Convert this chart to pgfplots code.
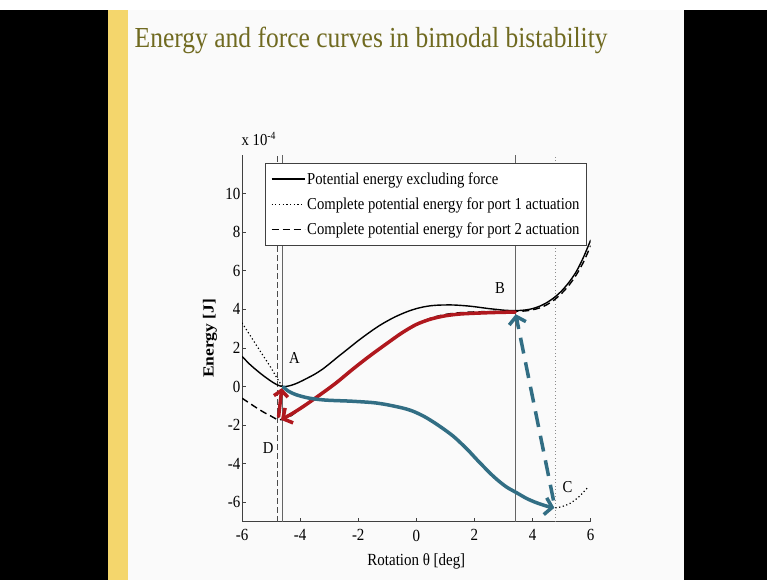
\documentclass[border=0pt]{standalone}
\usepackage{fontspec}
\setmainfont{Liberation Serif}[FakeStretch=0.88]
\newfontfamily\ylabfont{Liberation Serif}
\usepackage{graphicx}
\usepackage{pgfplots}
\pgfplotsset{compat=1.18}
\usetikzlibrary{arrows.meta}
\definecolor{slideyellow}{RGB}{244,214,108}
\definecolor{titleolive}{RGB}{112,106,32}
\definecolor{arrred}{RGB}{176,24,30}
\definecolor{arrteal}{RGB}{50,110,132}
\definecolor{vgray}{RGB}{100,100,100}
\begin{document}
\begin{tikzpicture}[x=1pt,y=1pt]
\path[use as bounding box] (0,0) rectangle (767,580);
\fill[white] (0,0) rectangle (767,580);
\fill[black] (0,0) rectangle (107.6,570);
\fill[black] (683.5,0) rectangle (767,570);
\fill[slideyellow] (107.6,0) rectangle (128,570);
\fill[white!98!black] (128,0) rectangle (683.5,570);
\node[anchor=base west, inner sep=0pt, text=titleolive, font=\fontsize{29}{29}\selectfont] at (134.5,532) {Energy and force curves in bimodal bistability};
\begin{axis}[
  at={(242pt,58.3pt)}, anchor=south west,
  scale only axis, width=348.7pt, height=366.7pt,
  xmin=-6, xmax=6, ymin=-7, ymax=12,
  axis x line*=bottom, axis y line*=left,
  axis line style={-, draw=black!75, line width=1pt},
  xtick={-6,-4,-2,0,2,4,6}, xticklabels={-6,-4,-2,0,2,4,6},
  ytick={-6,-4,-2,0,2,4,6,8,10}, yticklabels={-6,-4,-2,0,2,4,6,8,10},
  tick align=inside, major tick length=4pt,
  tick style={black!75, line width=0.8pt},
  ticklabel style={font=\fontsize{17}{17}\selectfont},
  yticklabel style={inner xsep=1.5pt},
  xticklabel style={yshift=-4.5pt},
  xlabel={Rotation θ [deg]},
  x label style={at={(axis description cs:0.5,-0.12)}, anchor=base, font=\fontsize{17}{17}\selectfont},
  ylabel={\scalebox{1}[0.88]{\ylabfont\bfseries\fontsize{17.5}{17.5}\selectfont Energy [J]}},
  y label style={at={(axis description cs:-0.092,0.5)}, anchor=center},
  legend style={at={(axis description cs:0.9894,0.9782)}, anchor=north east, draw=black!75, line width=0.9pt, fill=white, inner xsep=5pt, inner ysep=7pt, row sep=8pt, font=\fontsize{16.7}{20}\selectfont, cells={anchor=west}},
  legend image code/.code={\draw[#1] (0pt,0pt) -- (33pt,0pt);},
]
\addplot[vgray, line width=1pt, forget plot] coordinates {(-4.62,-7)(-4.62,12)};
\addplot[black!70, line width=1pt, dash pattern=on 6pt off 3pt, forget plot] coordinates {(-4.77,-7)(-4.77,12)};
\addplot[vgray, line width=1pt, forget plot] coordinates {(3.40,-7)(3.40,12)};
\addplot[black!45, line width=0.8pt, dash pattern=on 1pt off 2.5pt, forget plot] coordinates {(4.78,-7)(4.78,12)};

\addplot[black, line width=1.4pt, smooth] coordinates {(-6,1.57)(-5.75,1.18)(-5.5,0.85)(-5.25,0.55)(-5,0.28)(-4.8,0.1)(-4.6,0.0)(-4.4,0.03)(-4.2,0.12)(-4,0.25)(-3.75,0.44)(-3.5,0.64)(-3.25,0.88)(-3,1.17)(-2.75,1.48)(-2.5,1.78)(-2.25,2.08)(-2,2.38)(-1.75,2.66)(-1.5,2.93)(-1.25,3.18)(-1,3.4)(-0.75,3.6)(-0.5,3.77)(-0.25,3.92)(0,4.04)(0.25,4.13)(0.5,4.19)(0.75,4.22)(1,4.23)(1.25,4.23)(1.5,4.21)(1.75,4.18)(2,4.14)(2.25,4.09)(2.5,4.04)(2.75,4)(3,3.96)(3.25,3.94)(3.5,3.94)(3.75,3.97)(4,4.04)(4.25,4.17)(4.5,4.36)(4.75,4.62)(5,4.96)(5.25,5.4)(5.5,5.95)(5.75,6.7)(6,7.6)};
\addlegendentry{Potential energy excluding force}
\addplot[black, line width=1.2pt, dash pattern=on 1.2pt off 2.5pt, smooth] coordinates {(-6,3.3)(-5.75,2.72)(-5.5,2.13)(-5.25,1.55)(-5,0.97)(-4.8,0.45)(-4.6,0.0)(-4.4,-0.24)(-4.14,-0.42)(-3.75,-0.58)(-3.34,-0.67)(-3,-0.71)(-2.5,-0.74)(-2.19,-0.76)(-1.5,-0.83)(-1.04,-0.93)(-0.5,-1.1)(-0.22,-1.22)(0,-1.35)(0.33,-1.6)(0.75,-2)(1.27,-2.57)(1.75,-3.25)(2.08,-3.78)(2.5,-4.43)(2.77,-4.81)(3.1,-5.2)(3.45,-5.5)(3.8,-5.8)(4.14,-6.02)(4.5,-6.2)(4.79,-6.28)(5,-6.22)(5.29,-6.05)(5.6,-5.7)(5.92,-5.19)};
\addlegendentry{Complete potential energy for port 1 actuation}
\addplot[black, line width=1.4pt, dash pattern=on 7pt off 4pt, smooth] coordinates {(-6,-0.6)(-5.75,-0.85)(-5.5,-1.1)(-5.25,-1.33)(-5,-1.53)(-4.75,-1.72)(-4.5,-1.66)(-4.25,-1.45)(-4,-1.15)(-3.5,-0.6)(-3,-0.05)(-2.5,0.55)(-2,1.15)(-1.5,1.72)(-1,2.27)(-0.5,2.78)(0,3.22)(0.5,3.55)(1,3.74)(1.5,3.83)(2,3.87)(2.5,3.89)(3,3.9)(3.4,3.9)(3.75,3.92)(4,3.98)(4.25,4.08)(4.5,4.25)(4.75,4.5)(5,4.83)(5.25,5.25)(5.5,5.78)(5.75,6.45)(6,7.3)};
\addlegendentry{Complete potential energy for port 2 actuation}

\addplot[arrred, line width=3.5pt, line cap=round, smooth, -{Straight Barb[length=7pt,width=17pt]}, forget plot] coordinates {(3.4,3.86)(3,3.85)(2.5,3.83)(2,3.8)(1.5,3.76)(1,3.67)(0.5,3.5)(0,3.22)(-0.5,2.78)(-1,2.25)(-1.62,1.57)(-2.19,0.9)(-2.77,0.18)(-3.34,-0.45)(-3.91,-1.05)(-4.3,-1.42)(-4.66,-1.72)};
\addplot[arrred, line width=3.5pt, line cap=round, -{Straight Barb[length=6pt,width=14pt]}, forget plot] coordinates {(-4.74,-1.55)(-4.63,-0.08)};
\addplot[arrteal, line width=3.5pt, line cap=round, smooth, -{Straight Barb[length=7pt,width=17pt]}, forget plot] coordinates {(-4.58,-0.02)(-4.4,-0.24)(-4.14,-0.42)(-3.75,-0.58)(-3.34,-0.67)(-3,-0.71)(-2.5,-0.74)(-2.19,-0.76)(-1.5,-0.83)(-1.04,-0.93)(-0.5,-1.1)(-0.22,-1.22)(0,-1.35)(0.33,-1.6)(0.75,-2)(1.27,-2.57)(1.75,-3.25)(2.08,-3.78)(2.5,-4.43)(2.77,-4.81)(3.1,-5.2)(3.45,-5.5)(3.8,-5.8)(4.14,-6.02)(4.5,-6.2)(4.75,-6.28)};
\addplot[arrteal, line width=3.5pt, dash pattern=on 16pt off 9pt, -{Straight Barb[length=7pt,width=17pt]}, forget plot] coordinates {(4.72,-5.9)(3.42,3.75)};

\node[font=\fontsize{16.7}{16.7}\selectfont] at (axis cs:-4.2,1.48) {A};
\node[font=\fontsize{16.7}{16.7}\selectfont] at (axis cs:2.88,5.1) {B};
\node[font=\fontsize{16.7}{16.7}\selectfont] at (axis cs:5.2,-5.19) {C};
\node[font=\fontsize{16.7}{16.7}\selectfont] at (axis cs:-5.1,-3.17) {D};
\end{axis}
\node[anchor=base west, inner sep=0pt, font=\fontsize{16.7}{16.7}\selectfont] at (241.5,434) {x 10\raisebox{6pt}{\fontsize{11}{11}\selectfont -4}};
\end{tikzpicture}
\end{document}
